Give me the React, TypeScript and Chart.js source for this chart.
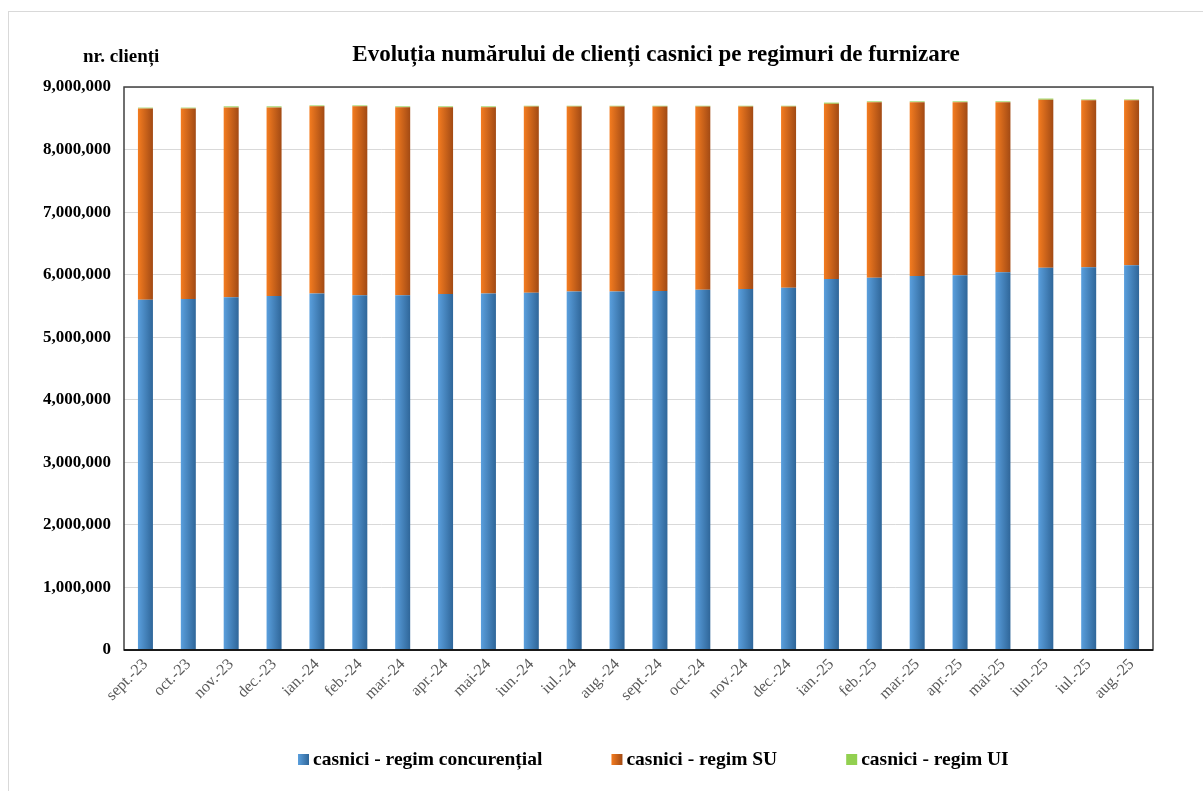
import React, { useEffect, useRef } from "react";
import { Chart, registerables } from "chart.js";

Chart.register(...registerables);

const categories = [
  "sept.-23", "oct.-23", "nov.-23", "dec.-23", "ian.-24", "feb.-24", "mar.-24", "apr.-24",
  "mai-24", "iun.-24", "iul.-24", "aug.-24", "sept.-24", "oct.-24", "nov.-24", "dec.-24",
  "ian.-25", "feb.-25", "mar.-25", "apr.-25", "mai-25", "iun.-25", "iul.-25", "aug.-25",
];

const concurential = [
  5600000, 5610000, 5640000, 5660000, 5700000, 5670000, 5670000, 5690000,
  5700000, 5710000, 5730000, 5730000, 5740000, 5760000, 5770000, 5790000,
  5930000, 5950000, 5980000, 5990000, 6040000, 6110000, 6120000, 6150000,
];

const totals = [
  8670000, 8670000, 8690000, 8690000, 8705000, 8705000, 8690000, 8690000,
  8690000, 8700000, 8700000, 8700000, 8700000, 8700000, 8700000, 8700000,
  8750000, 8770000, 8770000, 8770000, 8770000, 8815000, 8800000, 8800000,
];

const regimUI = [
  12000, 12000, 16000, 16000, 14000, 14000, 14000, 14000,
  14000, 12000, 12000, 12000, 12000, 12000, 12000, 12000,
  18000, 12000, 12000, 12000, 12000, 18000, 12000, 12000,
];

const regimSU = totals.map((t, i) => t - concurential[i] - regimUI[i]);

const seriesNames = [
  "casnici - regim concurențial",
  "casnici - regim SU",
  "casnici - regim UI",
];

const yTicks = { min: 0, max: 9000000, step: 1000000 };

const BAR_PCT = 0.35;
const SERIF = "'Liberation Serif', 'Times New Roman', serif";

function gradient(light: string, dark: string) {
  return (ctx: any) => {
    const chart = ctx.chart;
    const x = chart.scales && chart.scales.x;
    if (!x || !chart.chartArea || ctx.dataIndex === undefined) return light;
    const cx = x.getPixelForValue(ctx.dataIndex);
    const w = (x.width / categories.length) * BAR_PCT;
    const g = chart.ctx.createLinearGradient(cx - w / 2, 0, cx + w / 2, 0);
    g.addColorStop(0, light);
    g.addColorStop(1, dark);
    return g;
  };
}

const legendColors = [
  ["#5a9fdd", "#2f6699"],
  ["#f47c20", "#a24a14"],
  ["#92d050", "#92d050"],
];

const decorPlugin = {
  id: "decor",
  beforeDraw(chart: any) {
    const c = chart.ctx;
    c.save();
    c.fillStyle = "#ffffff";
    c.fillRect(0, 0, chart.width, chart.height);
    c.strokeStyle = "#d9d9d9";
    c.lineWidth = 1;
    c.strokeRect(8.5, 11.5, chart.width + 10, chart.height + 10);
    c.restore();
  },
  afterDraw(chart: any) {
    const c = chart.ctx;
    const a = chart.chartArea;
    c.save();
    // plot border
    c.strokeStyle = "#404040";
    c.lineWidth = 1.5;
    c.strokeRect(a.left, a.top, a.right - a.left, a.bottom - a.top);
    c.strokeStyle = "#000000";
    c.beginPath();
    c.moveTo(a.left, a.bottom);
    c.lineTo(a.right, a.bottom);
    c.stroke();

    // titles
    c.fillStyle = "#000000";
    c.textBaseline = "middle";
    c.textAlign = "center";
    c.font = `bold 23px ${SERIF}`;
    c.fillText("Evoluția numărului de clienți casnici pe regimuri de furnizare", 656, 55);
    c.textAlign = "left";
    c.font = `bold 19px ${SERIF}`;
    c.fillText("nr. clienți", 83, 57);

    // legend
    c.font = `bold 19.5px ${SERIF}`;
    let x = 298;
    const y = 760;
    chart.data.datasets.forEach((ds: any, i: number) => {
      const [l, d] = legendColors[i];
      const g = c.createLinearGradient(x, 0, x + 11, 0);
      g.addColorStop(0, l);
      g.addColorStop(1, d);
      c.fillStyle = g;
      c.fillRect(x, y - 6, 11, 11);
      c.fillStyle = "#000000";
      c.fillText(ds.label, x + 15, y);
      x += 15 + c.measureText(ds.label).width + 69;
    });
    c.restore();
  },
};

export default function App() {
  const ref = useRef<HTMLCanvasElement>(null);

  useEffect(() => {
    if (!ref.current) return;
    const chart = new Chart(ref.current, {
      type: "bar",
      data: {
        labels: categories,
        datasets: [
          {
            label: seriesNames[0],
            data: concurential,
            backgroundColor: gradient(legendColors[0][0], legendColors[0][1]),
            barPercentage: BAR_PCT,
            categoryPercentage: 1,
          },
          {
            label: seriesNames[1],
            data: regimSU,
            backgroundColor: gradient(legendColors[1][0], legendColors[1][1]),
            barPercentage: BAR_PCT,
            categoryPercentage: 1,
          },
          {
            label: seriesNames[2],
            data: regimUI,
            backgroundColor: legendColors[2][0],
            barPercentage: BAR_PCT,
            categoryPercentage: 1,
          },
        ],
      },
      options: {
        responsive: false,
        animation: false,
        layout: { padding: { top: 87, right: 50, bottom: 0, left: 0 } },
        plugins: {
          legend: { display: false },
          title: { display: false },
          tooltip: { enabled: false },
        },
        scales: {
          x: {
            stacked: true,
            grid: { display: false, drawTicks: false },
            border: { display: false },
            ticks: {
              minRotation: 45,
              maxRotation: 45,
              padding: 5,
              color: "#595959",
              font: { family: SERIF, size: 16 },
              autoSkip: false,
            },
            afterFit(scale: any) {
              scale.height = 141;
            },
          },
          y: {
            stacked: true,
            min: yTicks.min,
            max: yTicks.max,
            grid: { color: "#d9d9d9", lineWidth: 1, drawTicks: false },
            border: { display: false },
            ticks: {
              stepSize: yTicks.step,
              padding: 13,
              color: "#000000",
              font: { family: SERIF, size: 17, weight: "bold" },
              callback: (v: any) => Number(v).toLocaleString("en-US"),
            },
            afterFit(scale: any) {
              scale.width = 124;
            },
          },
        },
      },
      plugins: [decorPlugin],
    });
    return () => chart.destroy();
  }, []);

  return (
    <div style={{ position: "absolute", left: 0, top: 0, width: 1203, height: 791 }}>
      <canvas ref={ref} width={1203} height={791} style={{ display: "block" }} />
    </div>
  );
}
